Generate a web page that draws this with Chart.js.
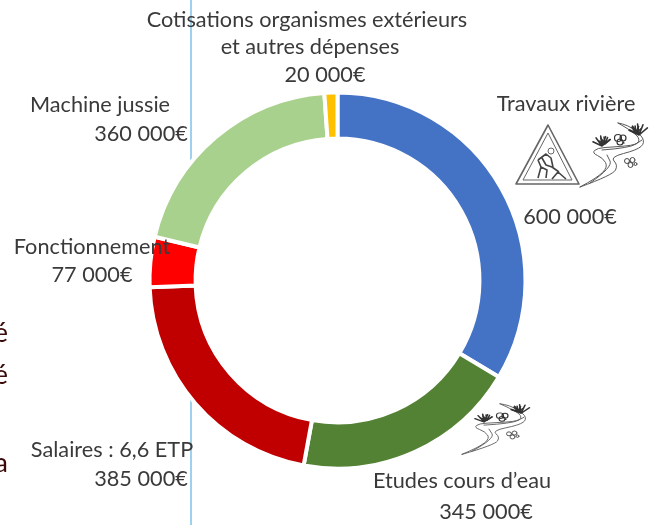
<!DOCTYPE html>
<html lang="fr">
<head>
<meta charset="utf-8">
<style>
html,body{margin:0;padding:0;background:#fff;width:656px;height:525px;overflow:hidden}
#wrap{position:absolute;left:0;top:0;width:656px;height:525px}
canvas{filter:blur(0.35px)}
</style>
<script src="https://cdn.jsdelivr.net/npm/chart.js@4/dist/chart.umd.min.js"></script>
</head>
<body>
<div id="wrap"><canvas id="c" width="656" height="525"></canvas></div>
<script>
const categories = ["Travaux rivière","Etudes cours d’eau","Salaires : 6,6 ETP","Fonctionnement","Machine jussie","Cotisations organismes extérieurs et autres dépenses"];
const values = [600000,345000,385000,77000,360000,20000];
const valueLabels = ["600 000€","345 000€","385 000€","77 000€","360 000€","20 000€"];
const colors = ["#4472C4","#548235","#C00000","#FF0000","#A9D18E","#FFC000"];

const TEXT = "#3a3a3a";
const annotations = [
  {t:"Cotisations organismes extérieurs",x:307,y:20},
  {t:"et autres dépenses",x:310,y:47},
  {t:valueLabels[5],x:325,y:75},
  {t:categories[4],x:100,y:105},
  {t:valueLabels[4],x:141,y:134},
  {t:categories[0],x:566,y:104},
  {t:valueLabels[0],x:570,y:217},
  {t:categories[3],x:92,y:247},
  {t:valueLabels[3],x:92,y:275},
  {t:categories[2],x:112,y:450},
  {t:valueLabels[2],x:141,y:479},
  {t:categories[1],x:462,y:481},
  {t:valueLabels[1],x:486,y:512}
];
const clipped = [{t:"é",y:333},{t:"é",y:375},{t:"a",y:463}];

function poly(ctx,pts){
  ctx.beginPath();
  ctx.moveTo(pts[0][0],pts[0][1]);
  for(let i=1;i<pts.length-1;i++){
    const mx=(pts[i][0]+pts[i+1][0])/2,my=(pts[i][1]+pts[i+1][1])/2;
    ctx.quadraticCurveTo(pts[i][0],pts[i][1],mx,my);
  }
  const l=pts[pts.length-1];ctx.lineTo(l[0],l[1]);
  ctx.stroke();
}
function river(ctx,ox,oy,sx,sy){
  ctx.save();
  ctx.translate(ox,oy);ctx.scale(sx,sy);
  ctx.strokeStyle="#5a5a5a";ctx.lineWidth=1;ctx.lineCap="round";
  poly(ctx,[[0,65],[17,56],[28,45],[23,36],[12,31],[17,26],[33,25],[57,23],[60,16],[50,8],[38,1]]);
  poly(ctx,[[0,65],[33,53],[38,43],[30,35],[57,28],[65,21],[60,11],[47,3],[38,1]]);
  poly(ctx,[[10,61],[33,45],[27,33]]);
  poly(ctx,[[22,28],[50,26],[62,18]]);
  ctx.strokeStyle="#333";ctx.lineWidth=1.6;
  const tuft=(x,y,r)=>{ctx.beginPath();for(const a of [-2.7,-2.2,-1.7,-1.2,-0.7]){ctx.moveTo(x,y);ctx.lineTo(x+r*Math.cos(a),y+r*Math.sin(a));}ctx.stroke();};
  tuft(22,24,10);tuft(59,13,11);tuft(25,22,7);tuft(56,11,7);
  ctx.lineWidth=1.2;
  ctx.beginPath();ctx.arc(38,16,3.5,0,7);ctx.moveTo(46,16);ctx.arc(43,16,3,0,7);ctx.moveTo(44,21);ctx.arc(40,20,3,0,7);ctx.stroke();
  ctx.lineWidth=0.9;
  ctx.beginPath();ctx.arc(47,39,2.5,0,7);ctx.moveTo(55,38);ctx.arc(52.5,38,2.5,0,7);ctx.moveTo(53,43);ctx.arc(50.5,43,2.5,0,7);ctx.moveTo(57,42);ctx.arc(55.5,42,1.5,0,7);ctx.stroke();
  ctx.restore();
}
function roadSign(ctx){
  ctx.save();
  ctx.strokeStyle="#666";ctx.lineJoin="round";ctx.lineWidth=1.6;
  ctx.beginPath();ctx.moveTo(548,125);ctx.lineTo(579,184);ctx.lineTo(516,184);ctx.closePath();ctx.stroke();
  ctx.lineWidth=1;
  ctx.beginPath();ctx.moveTo(548,133);ctx.lineTo(572,180);ctx.lineTo(523,180);ctx.closePath();ctx.stroke();
  ctx.fillStyle="#666";
  ctx.beginPath();ctx.arc(551,151,3,0,7);ctx.stroke();
  ctx.strokeStyle="#444";ctx.lineWidth=1.6;
  ctx.beginPath();
  ctx.moveTo(538,160);ctx.lineTo(546,154);ctx.lineTo(551,158);ctx.lineTo(553,167);
  ctx.moveTo(538,160);ctx.lineTo(541,167);ctx.lineTo(538,178);
  ctx.moveTo(541,167);ctx.lineTo(547,170);ctx.lineTo(546,178);
  ctx.moveTo(542,158);ctx.lineTo(546,165);ctx.lineTo(552,167);ctx.lineTo(559,172);
  ctx.moveTo(552,179);ctx.lineTo(558,172);ctx.lineTo(566,179);
  ctx.stroke();
  ctx.restore();
}

const scenery = {
  id:"scenery",
  beforeDraw(chart){
    const ctx=chart.ctx;
    ctx.save();
    ctx.fillStyle="#fff";ctx.fillRect(0,0,656,525);
    ctx.strokeStyle="#7DC2E6";ctx.lineWidth=1.5;
    ctx.beginPath();ctx.moveTo(191,0);ctx.lineTo(191,525);ctx.stroke();
    ctx.restore();
  },
  afterDraw(chart){
    const ctx=chart.ctx;
    ctx.save();
    ctx.textBaseline="middle";
    ctx.textAlign="center";
    ctx.font='21.7px Lato, "Open Sans", sans-serif';
    ctx.fillStyle=TEXT;
    for(const a of annotations) ctx.fillText(a.t,a.x,a.y);
    ctx.textAlign="right";
    ctx.font='27px Lato, "Open Sans", sans-serif';
    ctx.fillStyle="#3a0a0a";
    for(const a of clipped) ctx.fillText(a.t,8,a.y);
    ctx.restore();
    roadSign(ctx);
    river(ctx,580,122,1,1);
    river(ctx,462,403,1,0.79);
  }
};

new Chart(document.getElementById("c"),{
  type:"doughnut",
  data:{labels:categories,datasets:[{data:values,backgroundColor:colors,borderColor:"#fff",borderWidth:4,borderAlign:"center"}]},
  plugins:[scenery],
  options:{
    responsive:false,animation:false,
    radius:188,cutout:"75.5%",rotation:0,
    layout:{padding:{left:19,top:36,right:0,bottom:0}},
    plugins:{legend:{display:false},tooltip:{enabled:false},title:{display:false}}
  }
});
</script>
</body>
</html>
